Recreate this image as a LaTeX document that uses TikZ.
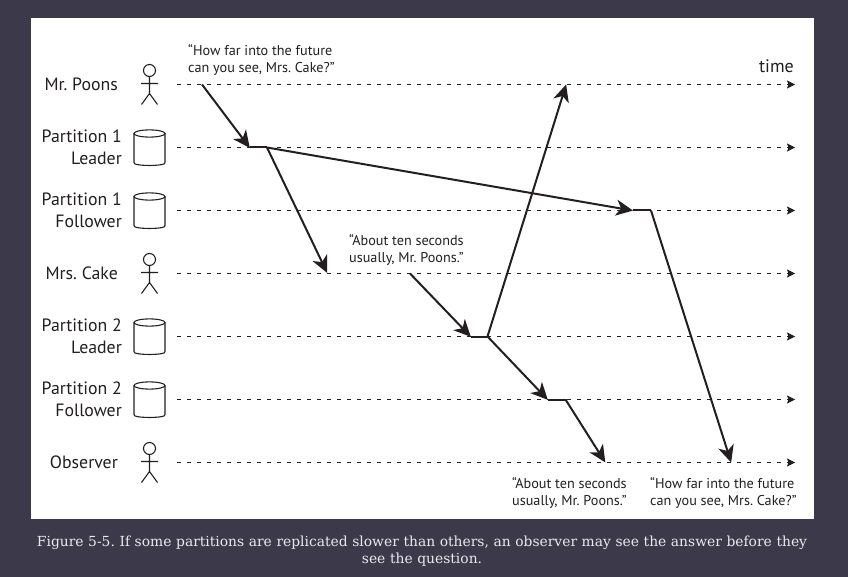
\documentclass[tikz,border=0pt]{standalone}
\usepackage{fontspec}
\setmainfont{PT Sans}
\newfontfamily\capfont{DejaVu Serif}
\usetikzlibrary{arrows.meta}
\definecolor{bgdark}{HTML}{3C3A4A}
\definecolor{ink}{HTML}{231F20}
\definecolor{captxt}{HTML}{E9E9EC}
\frenchspacing
\tikzset{
  x=1pt,y=-1pt,
  timeline/.style={draw=ink,line width=0.7pt,dash pattern=on 3.6pt off 6.4pt,-{Stealth[length=8pt,width=8pt,inset=1.5pt]}},
  msg/.style={draw=ink,line width=2pt,-{Stealth[length=17pt,width=16pt,inset=5pt]},shorten >=-0.5pt},
  flat/.style={draw=ink,line width=2pt},
  who/.style={anchor=east,align=right,font=\fontsize{17.8}{22}\selectfont,text=ink,inner sep=0pt},
  quote/.style={anchor=north west,align=left,font=\fontsize{14.2}{17}\selectfont,text=ink,inner sep=0pt},
  glyph/.style={draw=ink,line width=1.1pt},
}
\newcommand{\stick}[2]{%
  \draw[glyph] (#1,#2-14) circle (6);
  \draw[glyph] (#1,#2-8) -- (#1,#2+9) (#1-8.5,#2-1) -- (#1+8.5,#2-1)
     (#1-8,#2+20) -- (#1,#2+9) -- (#1+8,#2+20);}
\newcommand{\can}[2]{%
  \draw[glyph,rounded corners=1pt] (#1-15.5,#2-14) -- (#1-15.5,#2+16) .. controls (#1-10,#2+18.5) and (#1+10,#2+18.5) .. (#1+15.5,#2+16) -- (#1+15.5,#2-14);
  \draw[glyph] (#1,#2-14) ellipse (15.5 and 3.6);}
\begin{document}
\begin{tikzpicture}
\useasboundingbox (0,0) rectangle (848,577);
\fill[bgdark] (0,0) rectangle (848,577);
\fill[white] (31,18) rectangle (814,519);

% timeline ends
\foreach \n/\y in {a/84.5,b/147.5,c/210.5,d/273.5,e/336.5,f/399.5,g/462.5}{
  \coordinate (\n0) at (177,\y);
  \coordinate (\n1) at (795,\y);
  \draw[timeline] (\n0) -- (\n1);
}

% labels
\node[who] (lpoons) at (118,84) {Mr. Poons};
\node[who] (lp1l) at (122,147) {Partition 1\\Leader};
\node[who] (lp1f) at (122,210) {Partition 1\\Follower};
\node[who] (lcake) at (118,273) {Mrs. Cake};
\node[who] (lp2l) at (122,336) {Partition 2\\Leader};
\node[who] (lp2f) at (122,399) {Partition 2\\Follower};
\node[who] (lobs) at (118,462) {Observer};
\node[anchor=east,font=\fontsize{18}{20}\selectfont,text=ink,inner sep=0pt] (ltime) at (794,66) {time};

% glyphs
\stick{149.5}{84.5}
\stick{149.5}{273.5}
\stick{149.5}{462.5}
\can{149.5}{147.5}
\can{149.5}{210.5}
\can{149.5}{336.5}
\can{149.5}{399.5}

% quotes
\node[quote] (q1) at (188,44) {“How far into the future\\can you see, Mrs. Cake?”};
\node[quote] (q2) at (349,234.5) {“About ten seconds\\usually, Mr. Poons.”};
\node[quote] (q3) at (512,477) {“About ten seconds\\usually, Mr. Poons.”};
\node[quote] (q4) at (650,477) {“How far into the future\\can you see, Mrs. Cake?”};

% message points
\coordinate (s1) at (202,84.5);
\coordinate (p1a) at (249.5,147.5);
\coordinate (p1b) at (267,147.5);
\coordinate (p2a) at (632.5,210.5);
\coordinate (p2b) at (651,210.5);
\coordinate (cakeIn) at (327,272.5);
\coordinate (s2) at (410,273.5);
\coordinate (p3a) at (470.5,336.5);
\coordinate (p3b) at (487.5,336.5);
\coordinate (poonsIn) at (566,85);
\coordinate (p4a) at (547.5,399.5);
\coordinate (p4b) at (565.5,399.5);
\coordinate (ob1) at (605,462);
\coordinate (ob2) at (731,462);

\draw[msg] (s1) -- (p1a);
\draw[flat] (p1a) -- (p1b);
\draw[msg] (p1b) -- (p2a);
\draw[flat] (p2a) -- (p2b);
\draw[msg] (p1b) -- (cakeIn);
\draw[msg] (s2) -- (p3a);
\draw[flat] (p3a) -- (p3b);
\draw[msg] (p3b) -- (poonsIn);
\draw[msg] (p3b) -- (p4a);
\draw[flat] (p4a) -- (p4b);
\draw[msg] (p4b) -- (ob1);
\draw[msg] (p2b) -- (ob2);

% caption
\node[anchor=north,align=center,text width=800pt,inner sep=0pt,text=captxt,font=\capfont\fontsize{13.85}{17}\selectfont] (cap) at (422,536)
 {Figure 5-5. If some partitions are replicated slower than others, an observer may see the answer before they\\see the question.};
\end{tikzpicture}
\end{document}
